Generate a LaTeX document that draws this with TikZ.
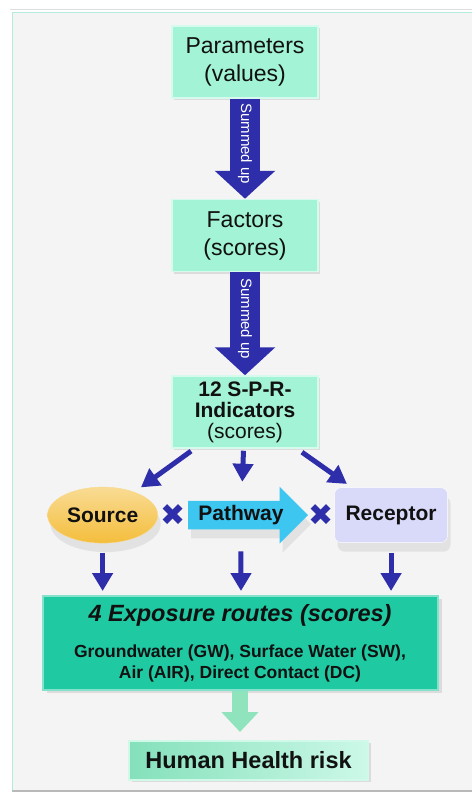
\documentclass[tikz,border=0pt]{standalone}
\usepackage{fontspec}
\setmainfont{Liberation Sans}
\newfontfamily\symfont{DejaVu Sans}
\usetikzlibrary{arrows.meta,positioning,calc,shapes.geometric,shapes.arrows,shadows}
\definecolor{Ink}{HTML}{111111}
\definecolor{Mint}{HTML}{A3F3D6}
\definecolor{Teal}{HTML}{1FC9A2}
\definecolor{Navy}{HTML}{2E2EAA}
\definecolor{Gold}{HTML}{F4BE3C}
\definecolor{Sky}{HTML}{3CC6F0}
\definecolor{Lilac}{HTML}{D9D9FA}
\definecolor{Leaf}{HTML}{8FE3BD}
\definecolor{Panel}{HTML}{F4F4F4}

\begin{document}
\begin{tikzpicture}[x=1pt, y=-1pt,
    node distance=42pt,
    box/.style={fill=Mint, draw=Mint!45!white, line width=1.5pt, minimum width=146pt, minimum height=72pt, align=center, text=Ink, font=\fontsize{23}{28}\selectfont, drop shadow={opacity=0.2, shadow xshift=2pt, shadow yshift=-2pt}},
    item/.style={minimum height=56pt, text=Ink, font=\fontsize{21}{21}\selectfont\bfseries, drop shadow={opacity=0.15, shadow xshift=3pt, shadow yshift=-9pt}},
    bigarrow/.style={-{Triangle[width=59pt,length=28pt]}, line width=30pt, draw=Navy},
    thinarrow/.style={-{Triangle[width=20pt,length=18pt]}, line width=5pt, draw=Navy},
    times/.style={text=Navy, font=\symfont\fontsize{30}{30}\selectfont}
  ]
    \useasboundingbox (0,0) rectangle (472,795);
    \fill[Panel] (12,12) rectangle (472,791);
    \draw[gray!25, line width=1pt] (10,9) -- (472,9);
    \draw[Teal!35, line width=1.2pt] (12.5,791) -- (12.5,12.5) -- (472,12.5);
    \draw[gray!55, line width=1.5pt] (12,791) -- (472,791);

    \node[box] (param) at (245,62) {Parameters\\(values)};
    \node[box, below=100pt of param] (factor) {Factors\\(scores)};
    \node[box, below=103pt of factor, font=\fontsize{21}{21}\selectfont] (spr) {\textbf{12 S-P-R-}\\\textbf{Indicators}\\(scores)};

    \node[item, single arrow, fill=Sky, minimum height=120pt, minimum width=57pt, single arrow head extend=13.5pt, inner xsep=4pt, below=52pt of spr, xshift=-4pt] (path) {Pathway};
    \node[item, ellipse, top color=Gold!55!white, bottom color=Gold, draw=Gold!60!white, minimum width=108pt, left=30pt of path] (src) {Source};
    \node[item, rounded corners=7pt, fill=Lilac, draw=white, minimum width=113pt, minimum height=55pt, right=26pt of path] (rec) {Receptor};
    \node[times] (x1) at ($(src.east)!0.5!(path.west)$) {✖};
    \node[times] (x2) at ($(path.east)!0.5!(rec.west)$) {✖};

    \node[fill=Teal, draw=Teal!55!white, line width=2pt, minimum width=395pt, minimum height=94pt, align=center, text=Ink, font=\fontsize{17.5}{21}\selectfont\bfseries, drop shadow={opacity=0.2, shadow xshift=4pt, shadow yshift=-3pt}] (expo) at (240,643) {{\fontsize{23.5}{26}\selectfont\itshape 4 Exposure routes (scores)}\\[15pt]Groundwater (GW), Surface Water (SW),\\Air (AIR), Direct Contact (DC)};
    \node[left color=Leaf!90!Teal, right color=Mint!55!white, draw=Mint!50!white, line width=1.5pt, minimum width=239pt, minimum height=39pt, text=Ink, font=\fontsize{23.5}{26}\selectfont\bfseries, below=49pt of expo, xshift=8.5pt, drop shadow={opacity=0.2, shadow xshift=3pt, shadow yshift=-2pt}] (risk) {Human Health risk};

    \draw[bigarrow] (param) -- node[rotate=-90, text=white, font=\fontsize{15}{15}\selectfont, pos=0.45] {Summed up} (factor);
    \draw[bigarrow] (factor) -- node[rotate=-90, text=white, font=\fontsize{15}{15}\selectfont, pos=0.45] {Summed up} (spr);

    \draw[thinarrow, shorten <=4pt, shorten >=8pt] (spr) -- (src);
    \draw[thinarrow, shorten <=2pt, shorten >=19pt] (spr) -- (path);
    \draw[thinarrow, shorten <=6pt, shorten >=6pt] (spr) -- (rec);

    \draw[thinarrow, shorten <=10pt, shorten >=4pt] (src) -- (src |- expo.north);
    \draw[thinarrow, shorten <=22pt, shorten >=4pt] (path) -- (path |- expo.north);
    \draw[thinarrow, shorten <=10pt, shorten >=4pt] (rec) -- (rec |- expo.north);

    \draw[-{Triangle[width=36pt,length=20pt]}, line width=16pt, draw=Leaf, shorten >=8pt] (expo) -- (expo |- risk.north);
  \end{tikzpicture}
\end{document}
